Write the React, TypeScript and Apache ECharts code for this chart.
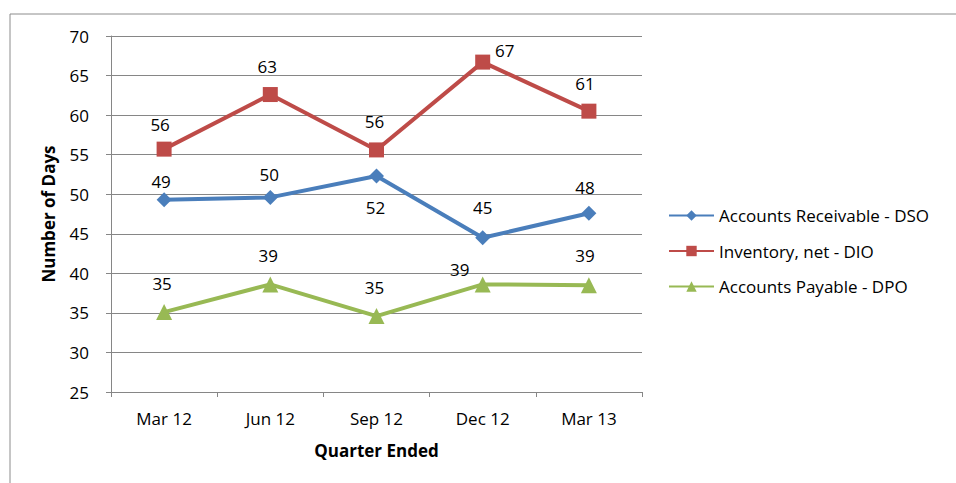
import React, { useEffect, useRef } from "react";
import * as echarts from "echarts";

const categories = ["Mar 12", "Jun 12", "Sep 12", "Dec 12", "Mar 13"];
const dso = [49.3, 49.6, 52.3, 44.5, 47.6];
const dio = [55.7, 62.6, 55.6, 66.7, 60.5];
const dpo = [35.1, 38.6, 34.6, 38.6, 38.5];
const seriesNames = ["Accounts Receivable - DSO", "Inventory, net - DIO", "Accounts Payable - DPO"];

// label centre offsets [dx, dy] relative to each point (style only)
const dsoLabelOffset = [[-3, -18], [-1, -23], [-1, 31], [0, -30], [-4, -26]];
const dioLabelOffset = [[-4, -25], [-3, -28], [-2, -28], [22, -12], [-4, -28]];
const dpoLabelOffset = [[-2, -29], [-2, -29], [-2, -29], [-23, -15], [-4, -30]];

const FONT = "Open Sans";
const FS = 17;

export default function App() {
  const ref = useRef<HTMLDivElement>(null);
  useEffect(() => {
    const chart = echarts.init(ref.current!, null, { renderer: "svg" });
    const mk = (vals: number[], offs: number[][]) =>
      vals.map((v, i) => ({ value: v, label: { offset: offs[i] } }));
    const labelBase = {
      show: true,
      position: "inside",
      fontFamily: FONT,
      fontSize: FS,
      color: "#000",
      formatter: (p: any) => String(Math.round(p.value)),
    };
    chart.setOption({
      animation: false,
      backgroundColor: "#fff",
      textStyle: { fontFamily: FONT },
      graphic: [
        {
          type: "rect",
          shape: { x: 10, y: 14, width: 1000, height: 600 },
          style: { fill: "none", stroke: "#8c8c8c", lineWidth: 1 },
          silent: true,
        },
      ],
      grid: { left: 111, right: 314, top: 36, bottom: 91 },
      legend: {
        orient: "vertical",
        left: 663,
        top: 202,
        itemWidth: 45,
        itemHeight: 13,
        itemGap: 18.5,
        textStyle: { fontFamily: FONT, fontSize: FS, color: "#000" },
        data: seriesNames,
      },
      xAxis: {
        type: "category",
        data: categories,
        boundaryGap: true,
        name: "Quarter Ended",
        nameLocation: "middle",
        nameGap: 50,
        nameTextStyle: { fontFamily: FONT, fontSize: FS, fontWeight: "bold", color: "#000" },
        axisLine: { lineStyle: { color: "#868686" } },
        axisTick: { show: true, length: 5, lineStyle: { color: "#868686" } },
        axisLabel: { fontFamily: FONT, fontSize: FS, color: "#000", margin: 18 },
      },
      yAxis: {
        type: "value",
        min: 25,
        max: 70,
        interval: 5,
        name: "Number of Days",
        nameLocation: "middle",
        nameGap: 54,
        nameRotate: 90,
        nameTextStyle: { fontFamily: FONT, fontSize: FS, fontWeight: "bold", color: "#000" },
        axisLine: { show: true, lineStyle: { color: "#868686" } },
        axisTick: { show: true, length: 5, lineStyle: { color: "#868686" } },
        axisLabel: { fontFamily: FONT, fontSize: FS, color: "#000", margin: 22 },
        splitLine: { lineStyle: { color: "#868686", width: 1 } },
      },
      series: [
        {
          name: seriesNames[0],
          type: "line",
          data: mk(dso, dsoLabelOffset),
          color: "#4A7EBB",
          symbol: "diamond",
          symbolSize: 15,
          lineStyle: { width: 4 },
          label: labelBase,
        },
        {
          name: seriesNames[1],
          type: "line",
          data: mk(dio, dioLabelOffset),
          color: "#BE4B48",
          symbol: "rect",
          symbolSize: 15,
          lineStyle: { width: 4 },
          label: labelBase,
        },
        {
          name: seriesNames[2],
          type: "line",
          data: mk(dpo, dpoLabelOffset),
          color: "#98B954",
          symbol: "triangle",
          symbolSize: 16,
          lineStyle: { width: 4 },
          label: labelBase,
        },
      ],
    });
    return () => chart.dispose();
  }, []);
  return (
    <div
      ref={ref}
      style={{ position: "absolute", left: 0, top: 0, width: 956, height: 483, background: "#fff" }}
    />
  );
}
